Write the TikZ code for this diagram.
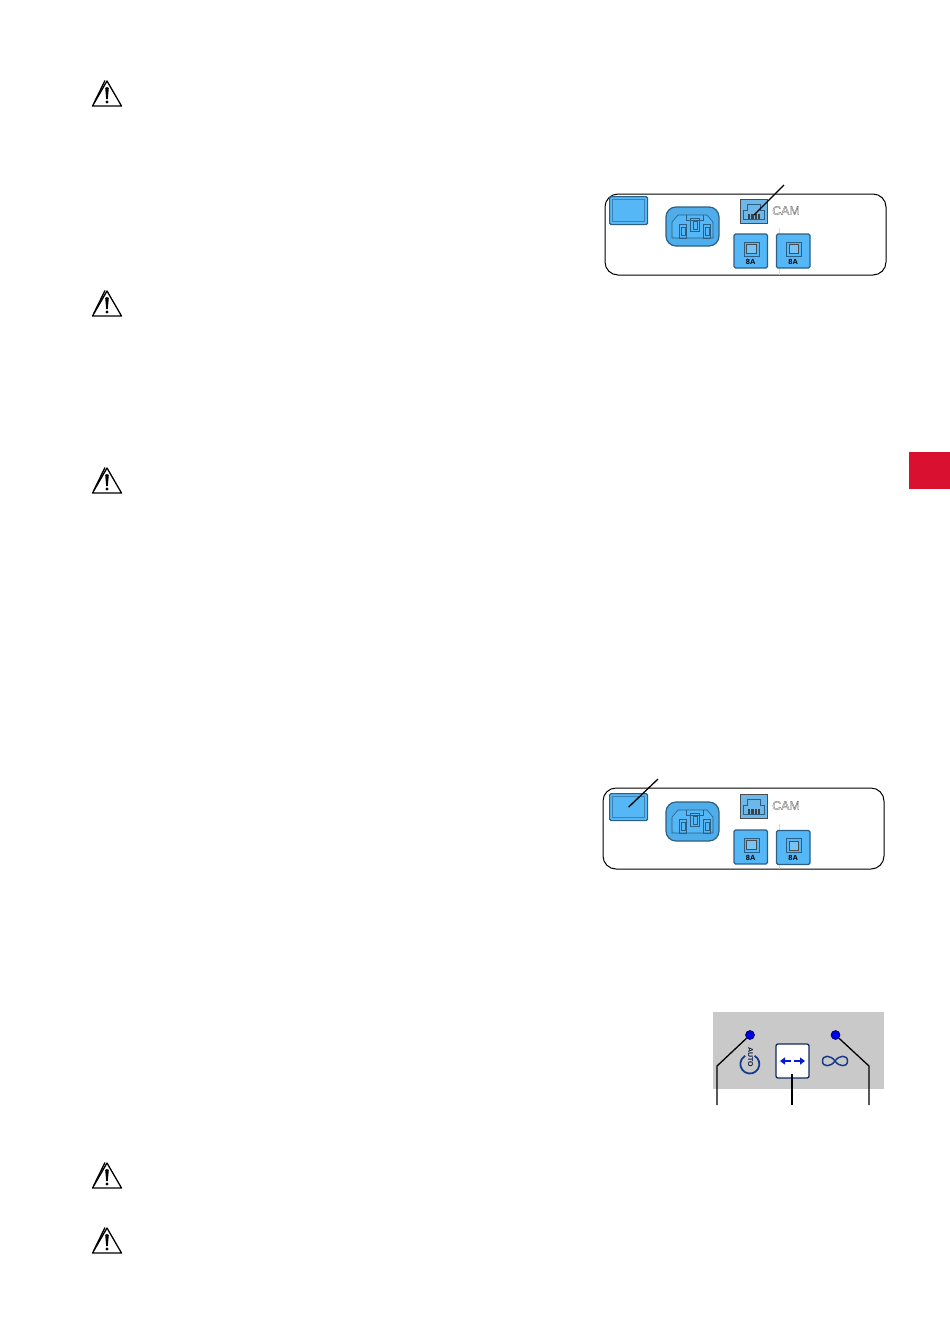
\documentclass[tikz,border=0pt]{standalone}
\usepackage{fontspec}
\setmainfont{Liberation Sans}
\usetikzlibrary{arrows.meta}
\definecolor{plugblue}{HTML}{55B7F5}
\definecolor{plugedge}{HTML}{2C5F85}
\definecolor{rjblue}{HTML}{6DB8E8}
\definecolor{iecblue}{HTML}{4FAEEA}
\definecolor{tabred}{HTML}{D91030}
\definecolor{navy}{HTML}{173C8C}
\definecolor{panelgrey}{HTML}{C9C9C9}
\newcommand{\hollow}[1]{\special{pdf:code 1 Tr 0.35 w 0.45 G}#1\special{pdf:code 0 Tr 0 G}}
\tikzset{
  x=1pt,y=-1pt,
  panelbox/.style={draw=black,line width=1pt,rounded corners=13pt,fill=white},
  blue box/.style={draw=plugedge,line width=1.2pt,fill=plugblue,rounded corners=1.5pt},
  detail/.style={draw=plugedge,line width=.6pt},
  leader/.style={draw=black,line width=1.3pt},
  warnline/.style={draw=black,line width=1.3pt,line join=round},
  led/.style={circle,draw=black!70!blue,line width=.6pt,fill=blue!90!black,minimum size=9pt,inner sep=0pt},
  camtext/.style={inner sep=0pt,font=\fontsize{12.4}{14}\selectfont,text=black!45},
  amp/.style={inner sep=0pt,font=\bfseries\fontsize{7.4}{9}\selectfont},
  warning/.pic={
    \draw[warnline] (0,-13) -- (14.5,12) -- (-14.5,12) -- cycle;
    \draw[warnline] (-2,-13.5) -- (-13,9);
    \fill (0,-7) -- (1.8,-6) -- (.8,5) -- (-.8,5) -- (-1.8,-6) -- cycle;
    \fill (0,8) circle (1.7);
  },
  iec/.pic={
    \draw[draw=plugedge,line width=1.2pt,fill=iecblue,rounded corners=10pt] (0,0) rectangle (53,39);
    \fill[plugblue,rounded corners=6pt] (6,31) -- (6,15) -- (12,8) -- (41,8) -- (47,15) -- (47,31) -- cycle;
    \draw[detail] (6,31) -- (6,15) -- (12,8) -- (41,8) -- (47,15) -- (47,31) -- cycle;
    \draw[detail] (13,17) rectangle (20,31);
    \draw[detail] (15,20) rectangle (19,28);
    \draw[detail] (24,11) rectangle (33,24);
    \draw[detail] (27,14) rectangle (31,22);
    \draw[detail] (37,17) rectangle (44,31);
    \draw[detail] (39,20) rectangle (43,28);
    \draw[detail] (20,8) -- (20,13) -- (37,13) -- (37,8);
  },
  fuse/.pic={
    \draw[blue box] (0,0) rectangle (33.5,34);
    \draw[detail] (10,8) rectangle (25,22);
    \draw[detail,draw=black!70,fill=plugblue!80!white] (12.5,10.5) rectangle (22,19.5);
    \node[amp] at (16.7,27.8) {8A};
  },
  rj/.pic={
    \draw[line width=1pt,draw=black!70,fill=rjblue] (0,0) rectangle (27,24);
    \draw[detail] (3,11) -- (7,11) -- (7,5) -- (20,5) -- (20,11) -- (24,11) -- (24,20) -- (3,20) -- cycle;
    \foreach \k in {0,...,8} \draw[line width=.6pt,draw=black!75] (8+\k*1.4,15) -- (8+\k*1.4,20);
  }
}
\begin{document}
\begin{tikzpicture}
\useasboundingbox (0,0) rectangle (950,1344);
\fill[white] (0,0) rectangle (950,1344);
\fill[tabred] (909,452) rectangle (950,489);

\pic at (107,94) {warning};
\pic at (107,304) {warning};
\pic at (107,481) {warning};
\pic at (107,1176) {warning};
\pic at (107,1241) {warning};

% --- first connector panel
\draw[panelbox] (605,194) rectangle (886,275);
\draw[black!15,line width=.4pt] (779,228) -- (779,275);
\node[blue box,minimum width=38pt,minimum height=28pt,inner sep=0pt,anchor=north west] (sqA) at (609,196) {};
\draw[detail,draw=plugedge!60!plugblue] (612,199) rectangle (644,221);
\pic at (666,207) {iec};
\pic at (740,199) {rj};
\coordinate (rjA) at (754,215);
\node[camtext,anchor=west] (camA) at (772,210.5) {\hollow{CAM}};
\pic at (734,234) {fuse};
\pic at (776.5,234) {fuse};
\coordinate (leadA) at (784,185);
\draw[leader] (leadA) -- (rjA);

% --- second connector panel
\draw[panelbox] (603,788) rectangle (884,869);
\draw[black!15,line width=.4pt] (779,824) -- (779,869);
\node[blue box,minimum width=38pt,minimum height=27pt,inner sep=0pt,anchor=north west] (sqB) at (609,793) {};
\draw[detail,draw=plugedge!60!plugblue] (612,796) rectangle (644,817);
\pic at (666,802) {iec};
\pic at (740,794) {rj};
\node[camtext,anchor=west] (camB) at (772,805.5) {\hollow{CAM}};
\pic at (734,830) {fuse};
\pic at (776.5,830.5) {fuse};
\coordinate (leadB) at (658,779);
\draw[leader] (leadB) -- (sqB.center);

% --- grey control panel
\fill[panelgrey] (713,1012) rectangle (884,1089);
\node[led] (ledL) at (750,1035) {};
\node[led] (ledR) at (835.5,1035) {};
\node[draw=navy!70!black,line width=1.3pt,fill=white,rounded corners=2pt,minimum width=33pt,minimum height=34pt,inner sep=0pt] (btn) at (792.5,1061) {};
\draw[navy,line width=1.8pt] (754.6,1055.8) arc (300:600:9.5);
\node[inner sep=0pt,rotate=-90,text=navy!45!black,font=\bfseries\fontsize{7}{8}\selectfont] (autoL) at (750.5,1057) {AUTO};
\draw[blue!60!navy,line width=2.2pt,-{Triangle[length=5pt,width=7pt]}] (791,1061) -- (780,1061);
\draw[blue!60!navy,line width=2.2pt,-{Triangle[length=5pt,width=7pt]}] (794,1061) -- (805,1061);
\draw[navy,line width=1.5pt] (835,1061) .. controls (839,1055) and (847.5,1054.5) .. (847.5,1061) .. controls (847.5,1067.5) and (839,1067) .. (835,1061) .. controls (831,1055) and (822.5,1054.5) .. (822.5,1061) .. controls (822.5,1067.5) and (831,1067) .. (835,1061) -- cycle;
\coordinate (elbL) at (717,1066);
\coordinate (endL) at (717,1105);
\coordinate (elbR) at (869,1066);
\coordinate (endR) at (869,1105);
\coordinate (btnIn) at (792,1074);
\coordinate (endM) at (792,1105);
\draw[leader] (ledL) -- (elbL) -- (endL);
\draw[leader] (ledR) -- (elbR) -- (endR);
\draw[leader] (btnIn) -- (endM);
\end{tikzpicture}
\end{document}
